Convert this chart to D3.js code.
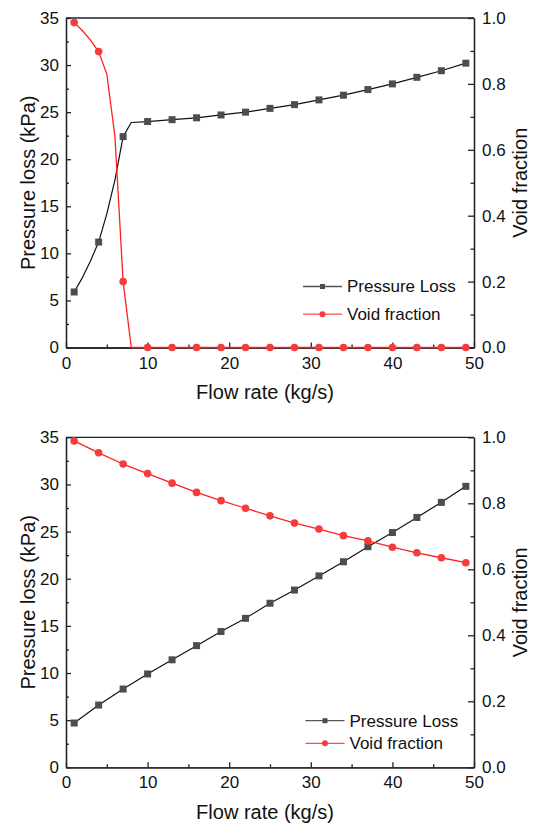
<!DOCTYPE html>
<html>
<head>
<meta charset="utf-8">
<script src="https://cdn.jsdelivr.net/npm/d3@7"></script>
<style>
  body { margin: 0; background: #fff; }
  svg { display: block; font-family: "Liberation Sans", Arial, sans-serif; }
  .axis path, .axis line { stroke: #222; stroke-width: 1.3; }
  .axis text { font-size: 17px; fill: #111; }
  .title { font-size: 20px; fill: #111; }
  .legend text { font-size: 17px; fill: #111; }
</style>
</head>
<body>
<div id="vis"></div>
<script>
// two stacked dual-axis charts: pressure loss + void fraction vs flow rate

const FRAME_WIDTH = 535;
const FRAME_HEIGHT = 823;

// data
const FLOW = [1, 4, 7, 10, 13, 16, 19, 22, 25, 28, 31, 34, 37, 40, 43, 46, 49];

// top chart, marked points
const TOP_PRESSURE = [5.9, 11.2, 22.4, 24.0, 24.2, 24.4, 24.7, 25.0, 25.4, 25.8, 26.3, 26.8, 27.4, 28.0, 28.7, 29.4, 30.2];
const TOP_VOID = [0.986, 0.898, 0.2, 0, 0, 0, 0, 0, 0, 0, 0, 0, 0, 0, 0, 0, 0];
// top chart, points on the line without a marker
const TOP_FLOW_EXTRA = [2, 3, 5, 6, 8];
const TOP_PRESSURE_EXTRA = [7.4, 9.2, 14.2, 17.8, 23.9];
const TOP_VOID_EXTRA = [0.962, 0.933, 0.83, 0.64, 0];

// bottom chart
const BOTTOM_PRESSURE = [4.7, 6.6, 8.3, 9.9, 11.4, 12.9, 14.4, 15.8, 17.4, 18.8, 20.3, 21.8, 23.4, 24.9, 26.5, 28.1, 29.8];
const BOTTOM_VOID = [0.989, 0.953, 0.919, 0.890, 0.861, 0.833, 0.808, 0.785, 0.762, 0.740, 0.722, 0.702, 0.686, 0.667, 0.650, 0.635, 0.620];

// ticks
const X_TICKS = [0, 10, 20, 30, 40, 50];
const X_MINOR = [5, 15, 25, 35, 45];
const P_TICKS = [0, 5, 10, 15, 20, 25, 30, 35];
const P_MINOR = [2.5, 7.5, 12.5, 17.5, 22.5, 27.5, 32.5];
const V_TICKS = [0, 0.2, 0.4, 0.6, 0.8, 1.0];
const V_MINOR = [0.1, 0.3, 0.5, 0.7, 0.9];

const SERIES_NAMES = ["Pressure Loss", "Void fraction"];

const GREY = "#4d4d4d";
const RED = "#f53b3b";

const FRAME = d3.select("#vis")
                .append("svg")
                  .attr("width", FRAME_WIDTH)
                  .attr("height", FRAME_HEIGHT);

const X_SCALE = d3.scaleLinear().domain([0, 50]).range([66, 474]);

function pairs(xs, ys) {
  return xs.map((x, i) => ({x: x, y: ys[i]}));
}

function drawChart(top, bottom, pressure, voids, legend) {
  const yP = d3.scaleLinear().domain([0, 35]).range([bottom, top]);
  const yV = d3.scaleLinear().domain([0, 1]).range([bottom, top]);

  // frame top edge
  FRAME.append("line")
    .attr("x1", X_SCALE(0)).attr("x2", X_SCALE(50))
    .attr("y1", top).attr("y2", top)
    .attr("stroke", "#222").attr("stroke-width", 1.3);

  // x axis
  FRAME.append("g").attr("class", "axis")
    .attr("transform", "translate(0," + bottom + ")")
    .call(d3.axisBottom(X_SCALE).tickValues(X_TICKS).tickSize(-5).tickSizeOuter(0).tickPadding(9));
  FRAME.append("g").attr("class", "axis")
    .attr("transform", "translate(0," + bottom + ")")
    .call(d3.axisBottom(X_SCALE).tickValues(X_MINOR).tickSize(-3).tickSizeOuter(0).tickFormat(""));

  // left axis
  FRAME.append("g").attr("class", "axis")
    .attr("transform", "translate(" + X_SCALE(0) + ",0)")
    .call(d3.axisLeft(yP).tickValues(P_TICKS).tickSize(-5).tickSizeOuter(0).tickPadding(7));
  FRAME.append("g").attr("class", "axis")
    .attr("transform", "translate(" + X_SCALE(0) + ",0)")
    .call(d3.axisLeft(yP).tickValues(P_MINOR).tickSize(-3).tickSizeOuter(0).tickFormat(""));

  // right axis
  FRAME.append("g").attr("class", "axis")
    .attr("transform", "translate(" + X_SCALE(50) + ",0)")
    .call(d3.axisRight(yV).tickValues(V_TICKS).tickSize(-6).tickSizeOuter(0).tickPadding(8)
      .tickFormat(d3.format(".1f")));
  FRAME.append("g").attr("class", "axis")
    .attr("transform", "translate(" + X_SCALE(50) + ",0)")
    .call(d3.axisRight(yV).tickValues(V_MINOR).tickSize(-3.5).tickSizeOuter(0).tickFormat(""));

  // axis titles
  FRAME.append("text").attr("class", "title")
    .attr("x", 265).attr("y", bottom + 51.5)
    .attr("text-anchor", "middle")
    .text("Flow rate (kg/s)");
  FRAME.append("text").attr("class", "title")
    .attr("transform", "translate(35," + ((top + bottom) / 2) + ") rotate(-90)")
    .attr("text-anchor", "middle")
    .text("Pressure loss (kPa)");
  FRAME.append("text").attr("class", "title")
    .attr("transform", "translate(527," + ((top + bottom) / 2) + ") rotate(-90)")
    .attr("text-anchor", "middle")
    .text("Void fraction");

  // lines
  const lineP = d3.line().x(d => X_SCALE(d.x)).y(d => yP(d.y));
  const lineV = d3.line().x(d => X_SCALE(d.x)).y(d => yV(d.y));

  FRAME.append("path")
    .datum(pressure.line)
    .attr("d", lineP)
    .attr("fill", "none").attr("stroke", "#111").attr("stroke-width", 1.2)
    .attr("stroke-linejoin", "round");
  FRAME.append("path")
    .datum(voids.line)
    .attr("d", lineV)
    .attr("fill", "none").attr("stroke", "#ff2020").attr("stroke-width", 1.3)
    .attr("stroke-linejoin", "round");

  // markers
  FRAME.selectAll(null)
    .data(pressure.marks)
    .enter()
    .append("rect")
      .attr("x", d => X_SCALE(d.x) - 3.5)
      .attr("y", d => yP(d.y) - 3.5)
      .attr("width", 7).attr("height", 7)
      .attr("fill", GREY);
  FRAME.selectAll(null)
    .data(voids.marks)
    .enter()
    .append("circle")
      .attr("cx", d => X_SCALE(d.x))
      .attr("cy", d => yV(d.y))
      .attr("r", 3.8)
      .attr("fill", RED);

  // legend
  const lg = FRAME.append("g").attr("class", "legend");
  SERIES_NAMES.forEach((name, i) => {
    const cy = legend.y + i * legend.gap;
    const col = i === 0 ? "#555" : "#ff4d4d";
    lg.append("line")
      .attr("x1", legend.x).attr("x2", legend.x + 39)
      .attr("y1", cy).attr("y2", cy)
      .attr("stroke", col).attr("stroke-width", 1.3);
    if (i === 0) {
      lg.append("rect")
        .attr("x", legend.x + 17).attr("y", cy - 2.5)
        .attr("width", 5).attr("height", 5)
        .attr("fill", GREY);
    } else {
      lg.append("circle")
        .attr("cx", legend.x + 19.5).attr("cy", cy)
        .attr("r", 3).attr("fill", RED);
    }
    lg.append("text")
      .attr("x", legend.x + 44).attr("y", cy)
      .attr("dy", "0.35em")
      .text(name);
  });
}

// top chart
const topMarksP = pairs(FLOW, TOP_PRESSURE);
const topMarksV = pairs(FLOW, TOP_VOID);
const topLineP = topMarksP.concat(pairs(TOP_FLOW_EXTRA, TOP_PRESSURE_EXTRA)).sort((a, b) => a.x - b.x);
const topLineV = topMarksV.concat(pairs(TOP_FLOW_EXTRA, TOP_VOID_EXTRA)).sort((a, b) => a.x - b.x);

drawChart(18, 347.5,
  {line: topLineP, marks: topMarksP},
  {line: topLineV, marks: topMarksV},
  {x: 303, y: 286.5, gap: 27.7});

// bottom chart
const botMarksP = pairs(FLOW, BOTTOM_PRESSURE);
const botMarksV = pairs(FLOW, BOTTOM_VOID);

drawChart(437.3, 767.3,
  {line: botMarksP, marks: botMarksP},
  {line: botMarksV, marks: botMarksV},
  {x: 305.5, y: 720.7, gap: 22.6});
</script>
</body>
</html>
